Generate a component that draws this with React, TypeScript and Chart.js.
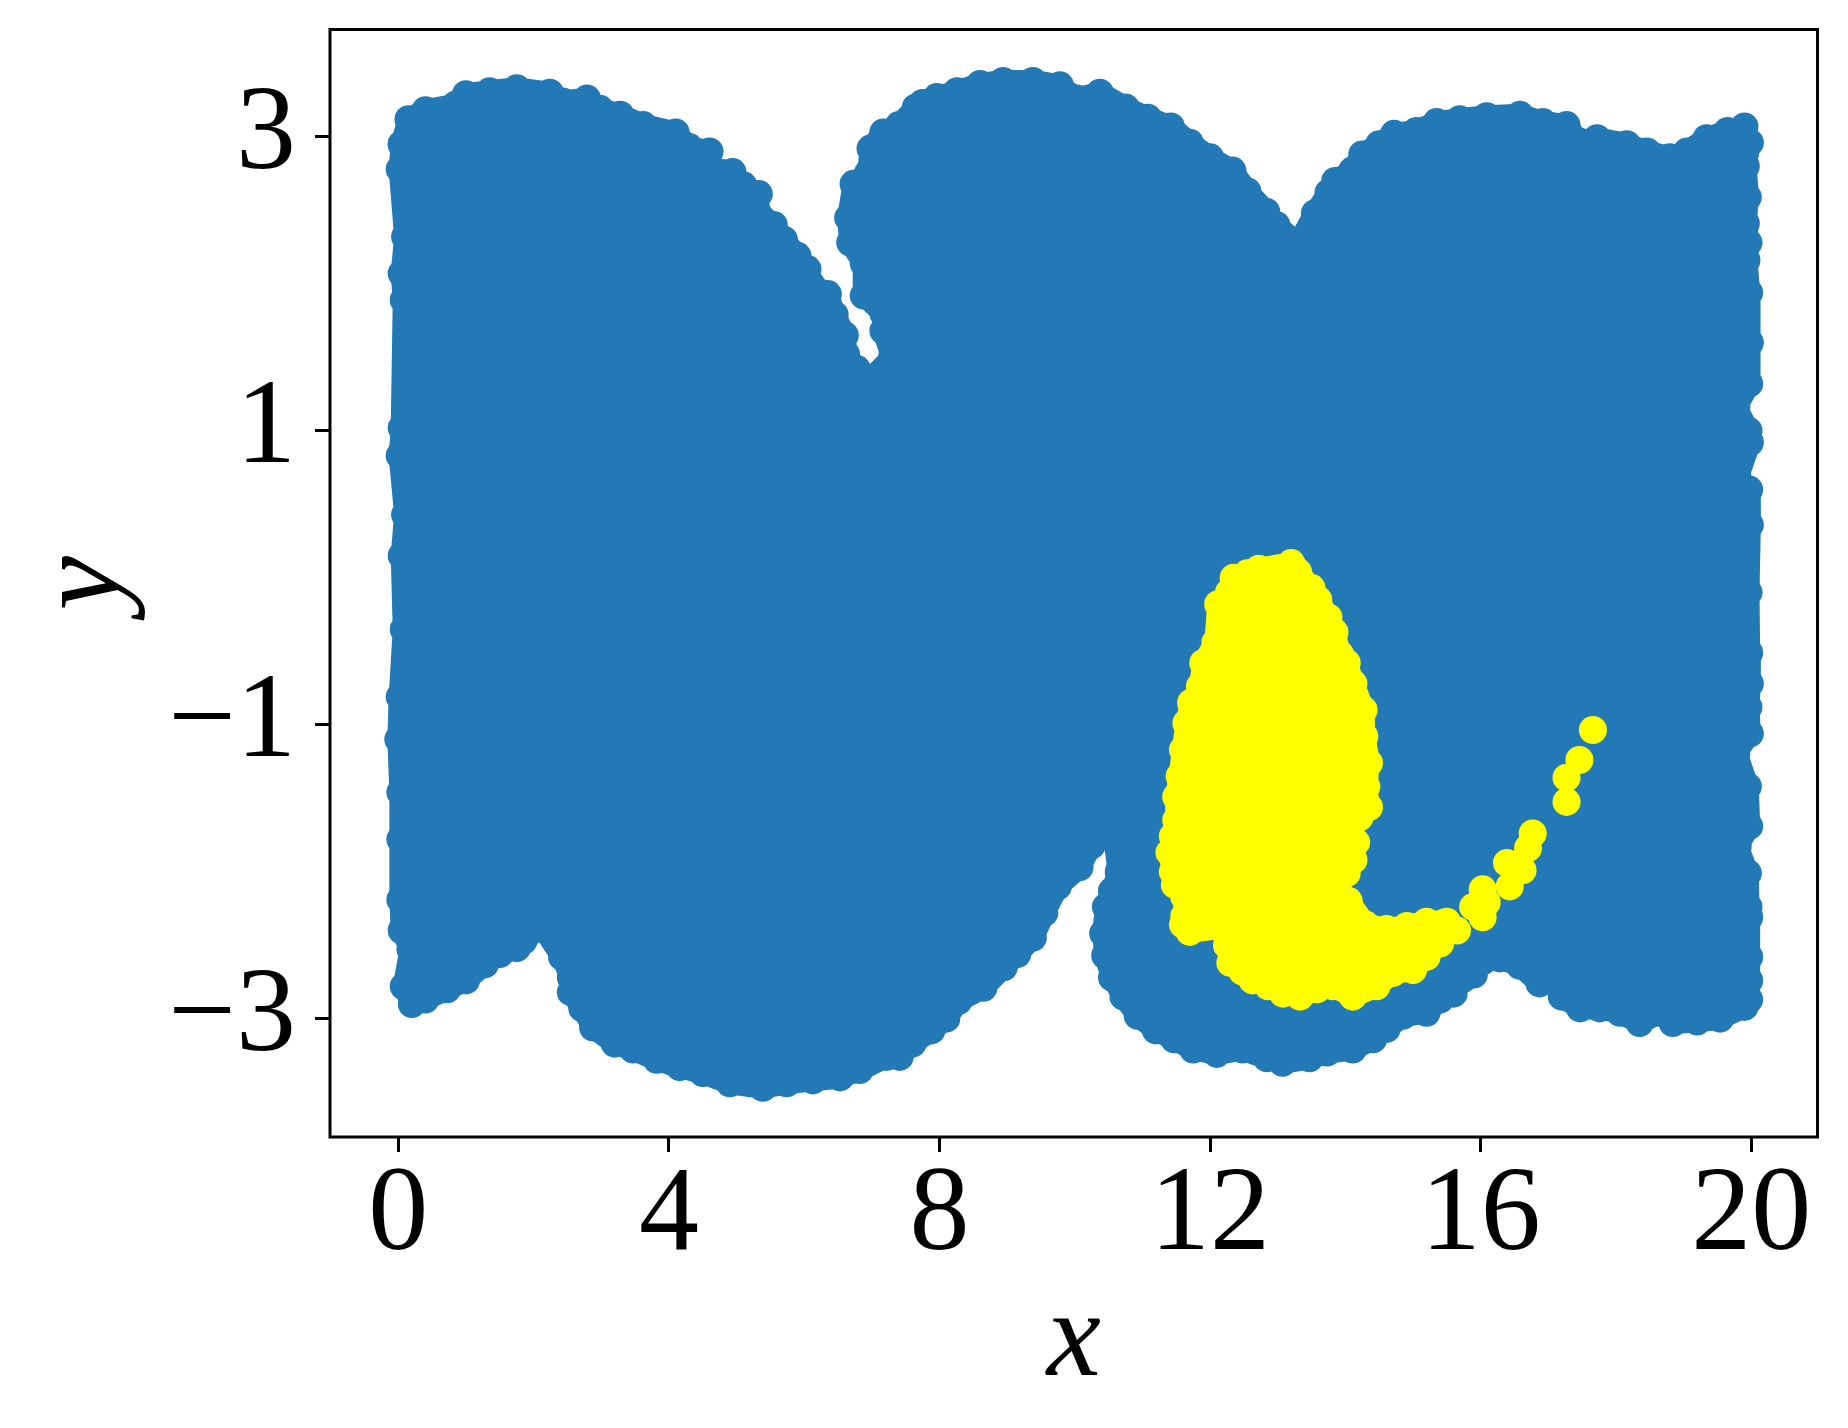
import React, { useEffect, useRef } from 'react';
import { Chart, registerables } from 'chart.js';

Chart.register(...registerables);

// ---- tick values ----
const xTicks = [0, 4, 8, 12, 16, 20];
const yTicks = [-3, -1, 1, 3];

// ---- blue cloud: outline of the outermost marker centres, clockwise ----
const blueEdge: [number, number][] = [
  [0.05, 2.95], [0.15, 3.12], [0.4, 3.18], [0.85, 3.22], [1.0, 3.29], [1.35, 3.31], [1.75, 3.33],
  [2.24, 3.3], [2.43, 3.24], [2.79, 3.26], [2.98, 3.19], [3.28, 3.15], [3.62, 3.08], [4.1, 3.03],
  [4.3, 2.93], [4.6, 2.9], [4.62, 2.79], [4.94, 2.76], [5.1, 2.67], [5.33, 2.61], [5.3, 2.5],
  [5.55, 2.4], [5.7, 2.3], [5.9, 2.19], [6.05, 2.1], [6.1, 2.0], [6.35, 1.93], [6.45, 1.79],
  [6.6, 1.65], [6.62, 1.52], [6.78, 1.42], [7.0, 1.36],
  [7.3, 1.5], [7.17, 1.68], [7.17, 1.8], [6.88, 1.92], [6.88, 2.14], [6.68, 2.28], [6.65, 2.45],
  [6.73, 2.68], [6.95, 2.76], [6.98, 2.92], [7.17, 3.03], [7.4, 3.08], [7.65, 3.2], [7.75, 3.23],
  [7.96, 3.27], [8.26, 3.31], [8.6, 3.36], [8.94, 3.38], [9.38, 3.38], [9.78, 3.35], [10.03, 3.26],
  [10.37, 3.3], [10.75, 3.2], [11.08, 3.13], [11.42, 3.07], [11.7, 2.96], [12.0, 2.86], [12.33, 2.77],
  [12.55, 2.63], [12.83, 2.49], [12.98, 2.4], [13.3, 2.27], [13.55, 2.48], [13.75, 2.62], [13.85, 2.7],
  [14.1, 2.77], [14.25, 2.88], [14.5, 2.95], [14.72, 3.02], [15.05, 3.04], [15.35, 3.1], [15.69, 3.12],
  [16.09, 3.14], [16.58, 3.15], [16.92, 3.1], [17.27, 3.08], [17.45, 2.97], [17.72, 2.99], [18.16, 2.95],
  [18.46, 2.9], [18.8, 2.86], [19.05, 2.9], [19.34, 2.99], [19.65, 3.04], [19.9, 3.07],
  [19.98, 2.96], [19.92, 2.8], [19.95, 2.59], [19.92, 2.41], [19.96, 2.28], [19.93, 2.16], [19.97, 1.94],
  [19.98, 1.6], [19.97, 1.32], [19.78, 1.16], [19.96, 1.0], [19.98, 0.92], [19.8, 0.68], [19.97, 0.6],
  [19.98, 0.36], [19.96, -0.1], [19.97, -0.51], [19.98, -0.72], [19.96, -0.88], [19.98, -1.06],
  [19.78, -1.19], [19.95, -1.42], [19.97, -1.69], [19.8, -1.83], [19.95, -2.01], [19.96, -2.24],
  [19.97, -2.31], [19.97, -2.58], [19.97, -2.74], [19.97, -2.87],
  [19.9, -2.92], [19.54, -3.0], [19.2, -3.02], [18.84, -3.03], [18.65, -2.96], [18.35, -3.03],
  [18.06, -2.96], [17.76, -2.93], [17.47, -2.93], [17.2, -2.85], [17.2, -2.76], [16.87, -2.76],
  [16.58, -2.64], [16.28, -2.59], [16.03, -2.61], [15.9, -2.7], [15.74, -2.73], [15.6, -2.83],
  [15.4, -2.87], [15.2, -2.96], [14.85, -2.98], [14.61, -3.07], [14.41, -3.14], [14.11, -3.21],
  [13.73, -3.23], [13.47, -3.27], [13.07, -3.3], [12.84, -3.27], [12.48, -3.21], [12.1, -3.24],
  [11.75, -3.21], [11.47, -3.14], [11.2, -3.08], [10.93, -2.98], [10.72, -2.85], [10.55, -2.72],
  [10.45, -2.57], [10.42, -2.42], [10.46, -2.24], [10.55, -2.13], [10.65, -2.0], [10.56, -1.7],
  [10.25, -1.82], [10.07, -1.97], [9.75, -2.1], [9.55, -2.28], [9.38, -2.45], [9.15, -2.56],
  [8.95, -2.65], [8.65, -2.79], [8.28, -2.88], [8.1, -3.0], [7.88, -3.08], [7.6, -3.17], [7.41, -3.26],
  [7.22, -3.26], [6.82, -3.35], [6.53, -3.4], [6.13, -3.42], [5.74, -3.44], [5.39, -3.47], [4.9, -3.44],
  [4.5, -3.37], [4.16, -3.33], [3.82, -3.28], [3.47, -3.21], [3.2, -3.17], [2.88, -3.06], [2.72, -2.93],
  [2.55, -2.82], [2.55, -2.72], [2.42, -2.58], [2.12, -2.37],
  [1.85, -2.47], [1.75, -2.52], [1.5, -2.56], [1.28, -2.63], [1.0, -2.74], [0.72, -2.8], [0.4, -2.87],
  [0.2, -2.9], [0.18, -2.83], [0.08, -2.78], [0.18, -2.53], [0.05, -2.4], [0.03, -2.19], [0.03, -1.78],
  [0.03, -1.46], [0.0, -1.1], [0.02, -0.81], [0.08, -0.35], [0.05, 0.15], [0.1, 0.43], [0.02, 0.83],
  [0.05, 1.02], [0.08, 1.89], [0.05, 2.07], [0.1, 2.32], [0.02, 2.78], [0.05, 2.95],
];

// ---- yellow cloud: outline of the core, clockwise ----
const yellowCore: [number, number][] = [
  [12.72, 0.06], [13.2, 0.1], [13.3, 0.04], [13.5, -0.07], [13.6, -0.15], [13.75, -0.27], [13.84, -0.37],
  [13.92, -0.52], [14.02, -0.58], [14.12, -0.72], [14.27, -0.9], [14.28, -1.08], [14.35, -1.26],
  [14.31, -1.42], [14.35, -1.56], [14.21, -1.63], [14.08, -1.68], [14.16, -1.8], [14.12, -1.92],
  [13.98, -1.97], [14.02, -2.01], [13.88, -2.1], [14.05, -2.2], [14.3, -2.36], [14.61, -2.39],
  [14.91, -2.37], [15.2, -2.34], [15.5, -2.34],
  [15.35, -2.49], [15.2, -2.58], [15.0, -2.67], [14.7, -2.69], [14.46, -2.78], [14.11, -2.85],
  [13.82, -2.78], [13.58, -2.8], [13.33, -2.85], [13.08, -2.83], [12.86, -2.78], [12.63, -2.74],
  [12.48, -2.68], [12.3, -2.62], [12.25, -2.5], [12.2, -2.38], [11.7, -2.41], [11.6, -2.36],
  [11.62, -2.3], [11.62, -2.17], [11.48, -2.09], [11.45, -2.0], [11.4, -1.87], [11.45, -1.76],
  [11.5, -1.65], [11.5, -1.49], [11.55, -1.35], [11.6, -1.17], [11.65, -0.99], [11.72, -0.85],
  [11.85, -0.74], [11.9, -0.58], [12.08, -0.44], [12.12, -0.18], [12.28, -0.1], [12.35, 0.0],
  [12.55, 0.03], [12.72, 0.06],
];

// ---- yellow tail: separate points ----
const yellowTail: [number, number][] = [
  [15.44, -2.35], [15.4, -2.49], [15.65, -2.4], [15.89, -2.24], [16.03, -2.31], [16.03, -2.12],
  [16.09, -2.21], [16.39, -1.94], [16.43, -2.1], [16.62, -1.99], [16.7, -1.84], [16.77, -1.74],
  [17.27, -1.525], [17.27, -1.36], [17.46, -1.24], [17.66, -1.036],
];

const BLUE = '#2279b5';
const YELLOW = '#ffff00';
const SERIF = "'Liberation Serif', 'DejaVu Serif', 'Times New Roman', serif";

const fmt = (v: number | string) => {
  const n = Number(v);
  return n < 0 ? '\u2212' + Math.abs(n) : String(n);
};

const toXY = (arr: [number, number][]) => arr.map(([x, y]) => ({ x, y }));

const framePlugin = {
  id: 'frame',
  afterDraw(chart: any) {
    const { ctx, chartArea: a } = chart;
    ctx.save();
    ctx.strokeStyle = '#000';
    ctx.lineWidth = 3;
    ctx.strokeRect(a.left, a.top, a.right - a.left, a.bottom - a.top);
    ctx.restore();
  },
};

export default function App() {
  const ref = useRef<HTMLCanvasElement | null>(null);

  useEffect(() => {
    if (!ref.current) return;
    const chart = new Chart(ref.current, {
      type: 'scatter',
      data: {
        datasets: [
          {
            type: 'line',
            label: 'blue',
            data: toXY(blueEdge),
            borderColor: BLUE,
            backgroundColor: BLUE,
            borderWidth: 22,
            borderJoinStyle: 'round',
            borderCapStyle: 'round',
            fill: 'shape',
            tension: 0,
            pointRadius: 14,
            pointHoverRadius: 14,
            pointBackgroundColor: BLUE,
            pointBorderWidth: 0,
            order: 3,
          } as any,
          {
            type: 'line',
            label: 'yellow',
            data: toXY(yellowCore),
            borderColor: YELLOW,
            backgroundColor: YELLOW,
            borderWidth: 22,
            borderJoinStyle: 'round',
            borderCapStyle: 'round',
            fill: 'shape',
            tension: 0,
            pointRadius: 14,
            pointHoverRadius: 14,
            pointBackgroundColor: YELLOW,
            pointBorderWidth: 0,
            order: 2,
          } as any,
          {
            type: 'scatter',
            label: 'tail',
            data: toXY(yellowTail),
            backgroundColor: YELLOW,
            borderWidth: 0,
            pointRadius: 14,
            pointHoverRadius: 14,
            order: 1,
          } as any,
        ],
      },
      options: {
        responsive: false,
        devicePixelRatio: 1,
        animation: false,
        events: [],
        layout: { padding: { left: 0, top: 29.5, right: 30.5, bottom: 0 } },
        plugins: { legend: { display: false }, tooltip: { enabled: false } },
        scales: {
          x: {
            type: 'linear',
            min: -1.01,
            max: 20.98,
            afterBuildTicks: (s: any) => {
              s.ticks = xTicks.map((v) => ({ value: v }));
            },
            afterFit: (s: any) => {
              s.height = 291;
              s.paddingLeft = 0;
              s.paddingRight = 0;
            },
            ticks: {
              callback: fmt,
              color: '#000',
              font: { family: SERIF, size: 120, lineHeight: 1 },
              padding: 5,
              maxRotation: 0,
              autoSkip: false,
            },
            grid: {
              display: true,
              drawOnChartArea: false,
              drawTicks: true,
              tickLength: 15,
              tickWidth: 3,
              tickColor: '#000',
            },
            border: { display: false },
            title: {
              display: true,
              text: 'x',
              color: '#000',
              font: { family: SERIF, size: 122, style: 'italic', lineHeight: 1.2 },
              padding: { top: 0, bottom: 12 },
            },
          },
          y: {
            type: 'linear',
            min: -3.805,
            max: 3.73,
            afterBuildTicks: (s: any) => {
              s.ticks = yTicks.map((v) => ({ value: v }));
            },
            afterFit: (s: any) => {
              s.width = 330;
              s.paddingTop = 0;
              s.paddingBottom = 0;
            },
            ticks: {
              callback: fmt,
              color: '#000',
              font: { family: SERIF, size: 120, lineHeight: 1 },
              padding: 19,
              autoSkip: false,
            },
            grid: {
              display: true,
              drawOnChartArea: false,
              drawTicks: true,
              tickLength: 15,
              tickWidth: 3,
              tickColor: '#000',
            },
            border: { display: false },
            title: {
              display: true,
              text: 'y',
              color: '#000',
              font: { family: SERIF, size: 122, style: 'italic', lineHeight: 1.2 },
              padding: { top: 14, bottom: 0 },
            },
          },
        },
      } as any,
      plugins: [framePlugin],
    });
    return () => chart.destroy();
  }, []);

  return (
    <div style={{ position: 'absolute', left: 0, top: 0, width: 1848, height: 1428, background: '#fff' }}>
      <canvas ref={ref} width={1848} height={1428} style={{ display: 'block' }} />
    </div>
  );
}
